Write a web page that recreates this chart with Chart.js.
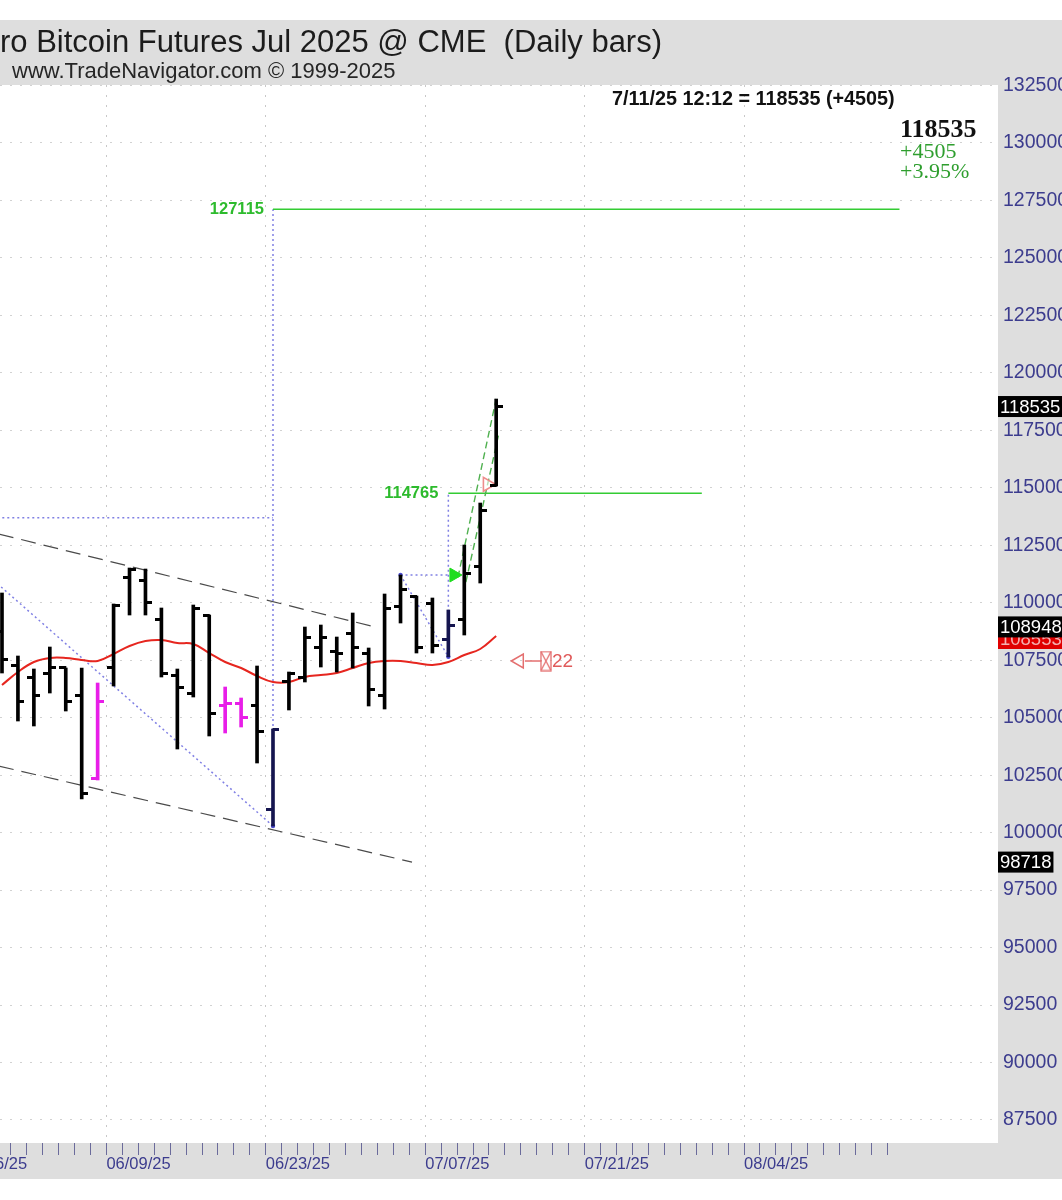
<!DOCTYPE html>
<html><head><meta charset="utf-8">
<script src="https://cdn.jsdelivr.net/npm/chart.js@4.4.1/dist/chart.umd.min.js"></script>
<style>html,body{margin:0;padding:0;background:#fff;overflow:hidden}#wrap{width:1062px;height:1200px;position:relative}</style>
</head><body><div id="wrap"><canvas id="c" width="1062" height="1200"></canvas></div>
<script>
// ---------- data ----------
const dates = ['05/29/25','05/30/25','06/02/25','06/03/25','06/04/25','06/05/25','06/06/25','06/09/25','06/10/25','06/11/25','06/12/25','06/13/25','06/16/25','06/17/25','06/18/25','06/19/25','06/20/25','06/23/25','06/24/25','06/25/25','06/26/25','06/27/25','06/30/25','07/01/25','07/02/25','07/03/25','07/04/25','07/07/25','07/08/25','07/09/25','07/10/25','07/11/25'];
const opens  = [108770,107291,106726,106943,107161,105943,102350,107161,111119,110989,109249,106856,106073,109423,105508,105638,105551,101027,106595,106769,108074,107900,108683,107813,105986,109858,110250,109988,108379,109292,111598,115100];
const highs  = [110424,107683,107118,108074,107161,107161,106508,109945,111511,111467,109771,107117,109901,109466,106334,105856,107248,104507,106987,108944,109031,108509,109553,108031,110380,111206,110293,110206,109684,112511,114338,118862];
const lows   = [106943,104855,104638,106073,105290,101462,102289,106378,109466,109466,106769,103637,105899,104203,104333,104594,103028,100288,105334,106552,107204,106987,107161,105508,105377,109118,107813,107813,107647,108596,110858,115078];
const closes = [107552,105725,105943,107161,105725,101723,105725,109900,111467,110032,106943,106334,109771,105203,105595,104986,104377,104480,106943,108509,108466,107770,108074,106204,109771,110597,108074,108118,109031,111293,114030,118535];
const barKinds = ['k','k','k','k','k','k','m','k','k','k','k','k','k','k','m','m','k','n','k','k','k','k','k','k','k','k','k','k','n','k','k','k'];
const maValues = [106421,106987,107422,107596,107596,107509,107465,107770,108118,108335,108379,108248,108205,107813,107422,107161,106813,106552,106552,106769,106856,106943,107161,107378,107465,107465,107378,107291,107422,107726,107987,108553];

const channelUpper = [{x:-3,y:113469},{x:23.4,y:108948}];
const channelLower = [{x:-3,y:103346},{x:25.72,y:98718}];

const swing1 = {hiX:-5, hi:113702, loX:17, lo:100288, target:127115, endX:56.3};
const swing2 = {hiX:25, hi:111206, loX:28, lo:107647, target:114765, endX:43.9};

const greenDashA = [{x:28.6,y:111100},{x:31.0,y:118862}];
const greenDashB = [{x:29.1,y:110900},{x:31.15,y:117300}];
const buySignal = [{x:28.35,y:111206}];
const exitMark = [{x:30.45,y:115150}];
const countArrow = [{x:32.45,y:107465}];
const countLine = [{x:32.8,y:107465},{x:33.85,y:107465}];
const countBox = [{x:34.12,y:107465}];
const countText = '22';

const priceTicks = [87500,90000,92500,95000,97500,100000,102500,105000,107500,110000,112500,115000,117500,120000,122500,125000,127500,130000,132500];
const dateTickSlots = [-2,7,17,27,37,47];
const dateTickLabels = ['05/26/25','06/09/25','06/23/25','07/07/25','07/21/25','08/04/25'];

const lastInfo = {stamp:'7/11/25 12:12 = 118535 (+4505)', last:'118535', chg:'+4505', pct:'+3.95%'};
const axisBoxes = [{v:118535,t:'118535'},{v:108948,t:'108948'},{v:98718,t:'98718'}];

// ---------- styles ----------
const GRAY = '#dedede';
const KIND_COLORS = {k:'#000000', m:'#e81ee8', n:'#15154f'};
const AXIS_TXT = '#3c3c8e';

function tickImg(color, side){
  const c = document.createElement('canvas'); c.width = 13; c.height = 3;
  const g = c.getContext('2d'); g.fillStyle = color;
  g.fillRect(side < 0 ? 0 : 6, 0, 7, 3); return c;
}
const tickImgs = {};
for (const k in KIND_COLORS) tickImgs[k] = {L: tickImg(KIND_COLORS[k], -1), R: tickImg(KIND_COLORS[k], 1)};
function boxImg(color){
  const c = document.createElement('canvas'); c.width = 12; c.height = 21;
  const g = c.getContext('2d'); g.strokeStyle = color; g.lineWidth = 1.3;
  g.strokeRect(1, 1, 10, 19); g.beginPath(); g.moveTo(1,1); g.lineTo(11,20); g.moveTo(11,1); g.lineTo(1,20); g.stroke();
  return c;
}
const RED_MARK = '#e46f6f';

const barData = dates.map((d,i)=>({x:i, y:[lows[i], highs[i]]}));
const openData = dates.map((d,i)=>({x:i, y:opens[i]}));
const closeData = dates.map((d,i)=>({x:i, y:closes[i]}));
const maData = maValues.map((v,i)=>({x:i, y:v}));

function isMajor(v){ return dateTickSlots.includes(Math.round(v + 0.45)); }

const BLUE_DOT = '#8080e4';
function dotted(data){ return {type:'line', data, borderColor:BLUE_DOT, borderWidth:1.5, borderDash:[2,3], pointRadius:0, order:20}; }

const annot = {
  id:'annot',
  beforeDraw(chart){
    const c = chart.ctx, a = chart.chartArea;
    c.save();
    c.fillStyle = '#fff'; c.fillRect(0,0,1062,1200);
    c.fillStyle = GRAY;
    c.fillRect(0,20,1062,a.top-20);
    c.fillRect(a.right,a.top,1062-a.right,1179-a.top);
    c.fillRect(0,a.bottom,1062,1179-a.bottom);
    // title
    c.fillStyle = '#1c1c1c';
    c.font = '31px "Liberation Sans", Arial, sans-serif';
    c.textBaseline = 'alphabetic';
    const full = 'Micro Bitcoin Futures Jul 2025 @ CME  (Daily bars)';
    const off = c.measureText('Mic').width;
    c.fillText(full, -off, 52);
    c.font = '22px "Liberation Sans", Arial, sans-serif';
    c.fillStyle = '#262626';
    c.fillText('www.TradeNavigator.com \u00A9 1999-2025', 12, 78);
    c.restore();
  },
  afterDraw(chart){
    const c = chart.ctx, xs = chart.scales.x, ys = chart.scales.y, a = chart.chartArea;
    c.save();
    // target labels
    c.font = 'bold 16.5px "Liberation Sans", Arial, sans-serif';
    c.fillStyle = '#2dbb2d'; c.textAlign = 'right'; c.textBaseline = 'middle';
    c.fillText(String(swing1.target), xs.getPixelForValue(swing1.loX) - 9, ys.getPixelForValue(swing1.target));
    c.fillText(String(swing2.target), xs.getPixelForValue(swing2.loX) - 10, ys.getPixelForValue(swing2.target));
    // count text
    c.font = '19px "Liberation Sans", Arial, sans-serif';
    c.fillStyle = '#e05a5a'; c.textAlign = 'left';
    c.fillText(countText, xs.getPixelForValue(countBox[0].x) + 6, ys.getPixelForValue(countBox[0].y) + 1);
    // top-right info
    c.textBaseline = 'alphabetic';
    c.fillStyle = '#111';
    c.font = 'bold 19.8px "Liberation Sans", Arial, sans-serif';
    c.fillText(lastInfo.stamp, 612, 105);
    c.font = 'bold 26px "Liberation Serif", "Times New Roman", serif';
    c.fillText(lastInfo.last, 900, 137);
    c.fillStyle = '#2e9e2e';
    c.font = '22px "Liberation Serif", "Times New Roman", serif';
    c.fillText(lastInfo.chg, 900, 158);
    c.fillText(lastInfo.pct, 900, 177.5);
    // axis boxes
    c.font = '18.5px "Liberation Sans", Arial, sans-serif';
    c.textBaseline = 'middle';
    const maY = ys.getPixelForValue(maValues[maValues.length-1]) + 3;
    c.fillStyle = '#e00000'; c.fillRect(a.right, maY-10, 1062-a.right, 20);
    c.fillStyle = '#f3b0b0'; c.fillText(String(maValues[maValues.length-1]), a.right+2, maY+1);
    for (const b of axisBoxes){
      const y = ys.getPixelForValue(b.v);
      const w = c.measureText(b.t).width + 4;
      c.fillStyle = '#000'; c.fillRect(a.right, y-10.5, w, 21);
      c.fillStyle = '#fff'; c.fillText(b.t, a.right+2, y+1);
    }
    c.restore();
  }
};

const ds = [
  {type:'scatter', data:openData, pointStyle:ctx=>tickImgs[barKinds[ctx.dataIndex]||'k'].L, pointRadius:3, order:0},
  {type:'scatter', data:closeData, pointStyle:ctx=>tickImgs[barKinds[ctx.dataIndex]||'k'].R, pointRadius:3, order:0},
  {type:'bar', data:barData, backgroundColor:ctx=>KIND_COLORS[barKinds[ctx.dataIndex]||'k'], barThickness:3, grouped:false, borderWidth:0, order:1},
  {type:'line', data:maData, borderColor:'#e6261f', borderWidth:2, tension:0.4, pointRadius:0, order:5},
  {type:'line', data:channelUpper, borderColor:'#4a4a4a', borderWidth:1.2, borderDash:[15,8], pointRadius:0, order:10},
  {type:'line', data:channelLower, borderColor:'#4a4a4a', borderWidth:1.2, borderDash:[15,8], pointRadius:0, order:10},
  dotted([{x:swing1.hiX,y:swing1.hi},{x:swing1.loX,y:swing1.hi}]),
  dotted([{x:swing1.hiX,y:swing1.hi},{x:swing1.loX,y:swing1.lo}]),
  dotted([{x:swing1.loX,y:swing1.lo},{x:swing1.loX,y:swing1.target}]),
  dotted([{x:swing2.hiX,y:swing2.hi},{x:swing2.loX,y:swing2.hi}]),
  dotted([{x:swing2.hiX,y:swing2.hi},{x:swing2.loX,y:swing2.lo}]),
  dotted([{x:swing2.loX,y:swing2.lo},{x:swing2.loX,y:swing2.target}]),
  {type:'line', data:[{x:swing1.loX,y:swing1.target},{x:swing1.endX,y:swing1.target}], borderColor:'#33cc33', borderWidth:1.6, pointRadius:0, order:15},
  {type:'line', data:[{x:swing2.loX,y:swing2.target},{x:swing2.endX,y:swing2.target}], borderColor:'#33cc33', borderWidth:1.6, pointRadius:0, order:15},
  {type:'scatter', data:[{x:swing1.loX,y:swing1.lo},{x:swing2.hiX,y:swing2.hi},{x:swing2.loX,y:swing2.lo}], pointRadius:2.2, backgroundColor:'#4b4bd0', borderWidth:0, order:2},
  {type:'line', data:greenDashA, borderColor:'#4fb04f', borderWidth:1.4, borderDash:[7,4], pointRadius:0, order:3},
  {type:'line', data:greenDashB, borderColor:'#4fb04f', borderWidth:1.4, borderDash:[7,4], pointRadius:0, order:3},
  {type:'scatter', data:buySignal, pointStyle:'triangle', rotation:90, pointRadius:8, backgroundColor:'#1fdd1f', borderColor:'#1fdd1f', borderWidth:1, order:2},
  {type:'scatter', data:exitMark, pointStyle:'triangle', rotation:90, pointRadius:8, backgroundColor:'rgba(255,255,255,0.6)', borderColor:'#ee8c8c', borderWidth:1.6, order:2},
  {type:'scatter', data:countArrow, pointStyle:'triangle', rotation:270, pointRadius:8, backgroundColor:'rgba(0,0,0,0)', borderColor:RED_MARK, borderWidth:1.5, order:2},
  {type:'line', data:countLine, borderColor:RED_MARK, borderWidth:1.5, pointRadius:0, order:2},
  {type:'scatter', data:countBox, pointStyle:boxImg(RED_MARK), pointRadius:3, order:2}
];

new Chart(document.getElementById('c'), {
  type:'bar',
  data:{datasets:ds},
  plugins:[annot],
  options:{
    responsive:false, animation:false, devicePixelRatio:1,
    layout:{autoPadding:false, padding:{top:85,left:0,right:0,bottom:21}},
    plugins:{legend:{display:false}, tooltip:{enabled:false}, title:{display:false}},
    scales:{
      x:{type:'linear', min:-0.125, max:62.48, offset:false, position:'bottom',
        afterBuildTicks:s=>{ const t=[]; for(let i=-3;i<=56;i++) t.push({value:i-0.45}); s.ticks=t; },
        afterFit:s=>{ s.height=36; s.paddingLeft=0; s.paddingRight=0; },
        border:{display:false, dash:[2,8]},
        grid:{offset:false, color:ctx=>(ctx.tick && isMajor(ctx.tick.value))?'#c8c8c8':'rgba(0,0,0,0)', lineWidth:1, drawTicks:true, tickLength:12, tickColor:'#6b6b9b', tickWidth:1, tickBorderDash:[]},
        ticks:{autoSkip:false, maxRotation:0, minRotation:0, align:'start', padding:0, color:AXIS_TXT,
          font:{family:'"Liberation Sans", Arial', size:16.5},
          callback:v=>{ const i=dateTickSlots.indexOf(Math.round(v+0.45)); return i>=0?dateTickLabels[i]:''; }}
      },
      y:{type:'linear', position:'right', min:86498, max:132522,
        afterBuildTicks:s=>{ s.ticks=priceTicks.map(v=>({value:v})); },
        afterFit:s=>{ s.width=64; s.paddingTop=0; s.paddingBottom=0; },
        border:{display:false, dash:[2,8]},
        grid:{color:'#d2d2d2', lineWidth:1, drawTicks:false},
        ticks:{padding:5, color:AXIS_TXT, font:{family:'"Liberation Sans", Arial', size:19.5}, callback:v=>String(v)}
      }
    }
  }
});
</script></body></html>
